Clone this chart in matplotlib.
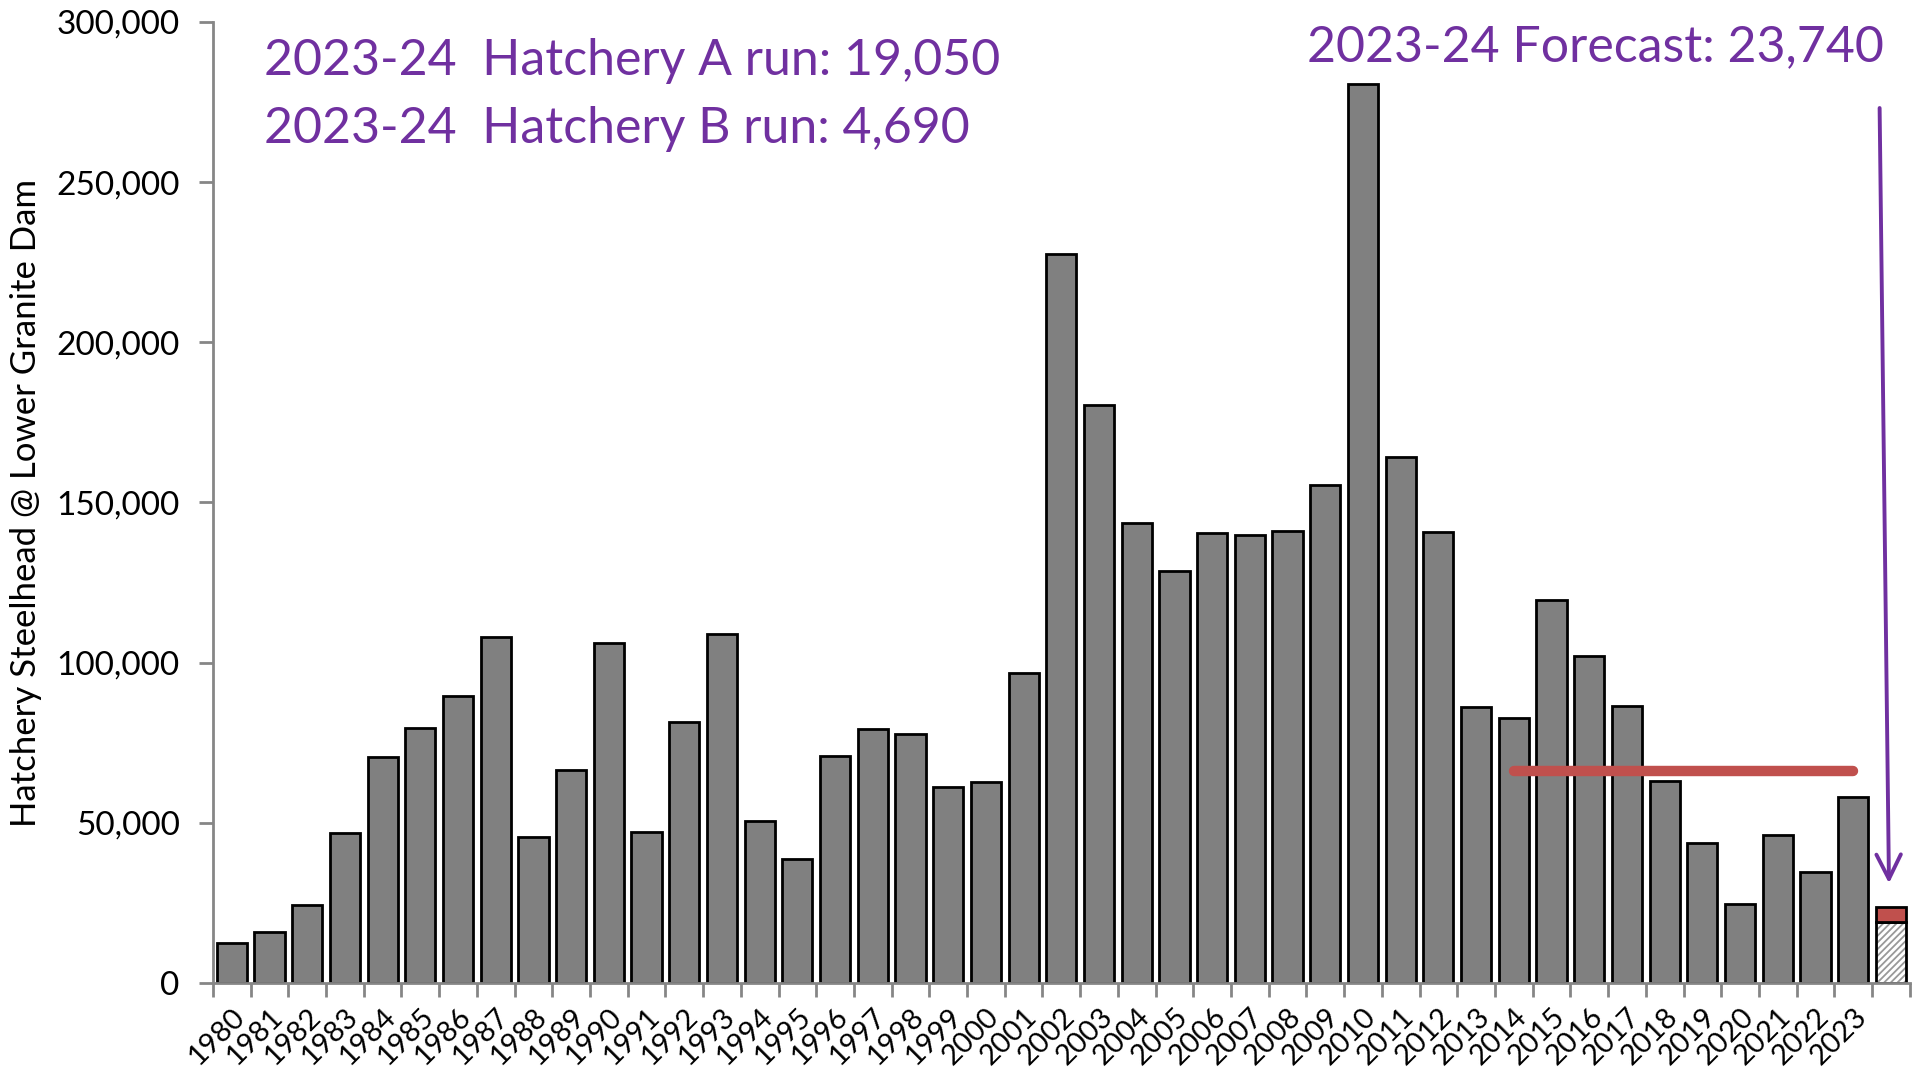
import matplotlib
matplotlib.use('Agg')
import matplotlib.pyplot as plt
from matplotlib.ticker import FuncFormatter

plt.rcParams['font.family'] = ['Lato', 'DejaVu Sans']
plt.rcParams['hatch.linewidth'] = 1.3

years = [str(y) for y in range(1980, 2024)]
counts = [12500, 16000, 24400, 46800, 70400, 79600, 89500, 108100, 45700, 66600,
          106200, 47200, 81500, 108900, 50600, 38800, 70800, 79200, 77700, 61300,
          62800, 96700, 227700, 180500, 143500, 128700, 140500, 139700, 141200, 155300,
          280600, 164100, 140900, 86000, 82600, 119500, 102000, 86400, 63200, 43800,
          24700, 46100, 34600, 58200]
hatchery_a = 19050
hatchery_b = 4690
forecast_total = 23740
avg_years = years[-10:]
avg_value = sum(counts[-10:]) / 10

purple = '#7030A0'
red = '#C0504D'

fig = plt.figure(figsize=(19.13, 10.81), dpi=100)
ax = fig.add_axes([0.1113, 0.0907, 0.887, 0.889])

x = list(range(len(years)))
xf = len(years)
ax.bar(x, counts, width=0.8, color='#808080', edgecolor='black', linewidth=2)
# hatched part: draw hatch in grey first, then the black outline on top
ax.bar(xf, hatchery_a, width=0.8, color='white', edgecolor='#999999', linewidth=0, hatch='/////')
ax.bar(xf, hatchery_a, width=0.8, fill=False, edgecolor='black', linewidth=2)
ax.bar(xf, hatchery_b, bottom=hatchery_a, width=0.8, color=red, edgecolor='black', linewidth=2)

# 10 year average line
i0 = years.index(avg_years[0])
i1 = years.index(avg_years[-1])
ax.plot([i0, i1], [avg_value, avg_value], color=red, lw=7.5, solid_capstyle='round')

ax.set_xlim(-0.5, xf + 0.5)
ax.set_ylim(0, 300000)
ax.set_yticks(range(0, 300001, 50000))
ax.yaxis.set_major_formatter(FuncFormatter(lambda v, p: f'{int(v):,}'))
ax.set_xticks(x)
ax.set_xticklabels(years, rotation=45, ha='right', va='top', rotation_mode='anchor', fontsize=21)
ax.set_xticks([i - 0.5 for i in range(xf + 2)], minor=True)
ax.tick_params(axis='x', which='major', length=0, pad=15)
ax.tick_params(axis='x', which='minor', length=10, width=2, color='#868686')
ax.tick_params(axis='y', length=10, width=2, color='#868686', labelsize=24, pad=14)

for s in ['top', 'right']:
    ax.spines[s].set_visible(False)
for s in ['left', 'bottom']:
    ax.spines[s].set_color('#868686')
    ax.spines[s].set_linewidth(2)

ax.set_ylabel('Hatchery Steelhead @ Lower Granite Dam', fontsize=25, labelpad=10)

ax.text(0.03, 0.959, f'2023-24  Hatchery A run: {hatchery_a:,}', transform=ax.transAxes,
        fontsize=36, color=purple, va='center', ha='left')
ax.text(0.03, 0.889, f'2023-24  Hatchery B run: {hatchery_b:,}', transform=ax.transAxes,
        fontsize=36, color=purple, va='center', ha='left')
ax.text(0.985, 0.974, f'2023-24 Forecast: {forecast_total:,}', transform=ax.transAxes,
        fontsize=36, color=purple, va='center', ha='right')

ax.annotate('', xy=(xf - 0.05, forecast_total + 6500), xytext=(xf - 0.3, 274000),
            arrowprops=dict(arrowstyle='->', color=purple, lw=2.8, mutation_scale=44))

fig.savefig('out.png', dpi=100)
